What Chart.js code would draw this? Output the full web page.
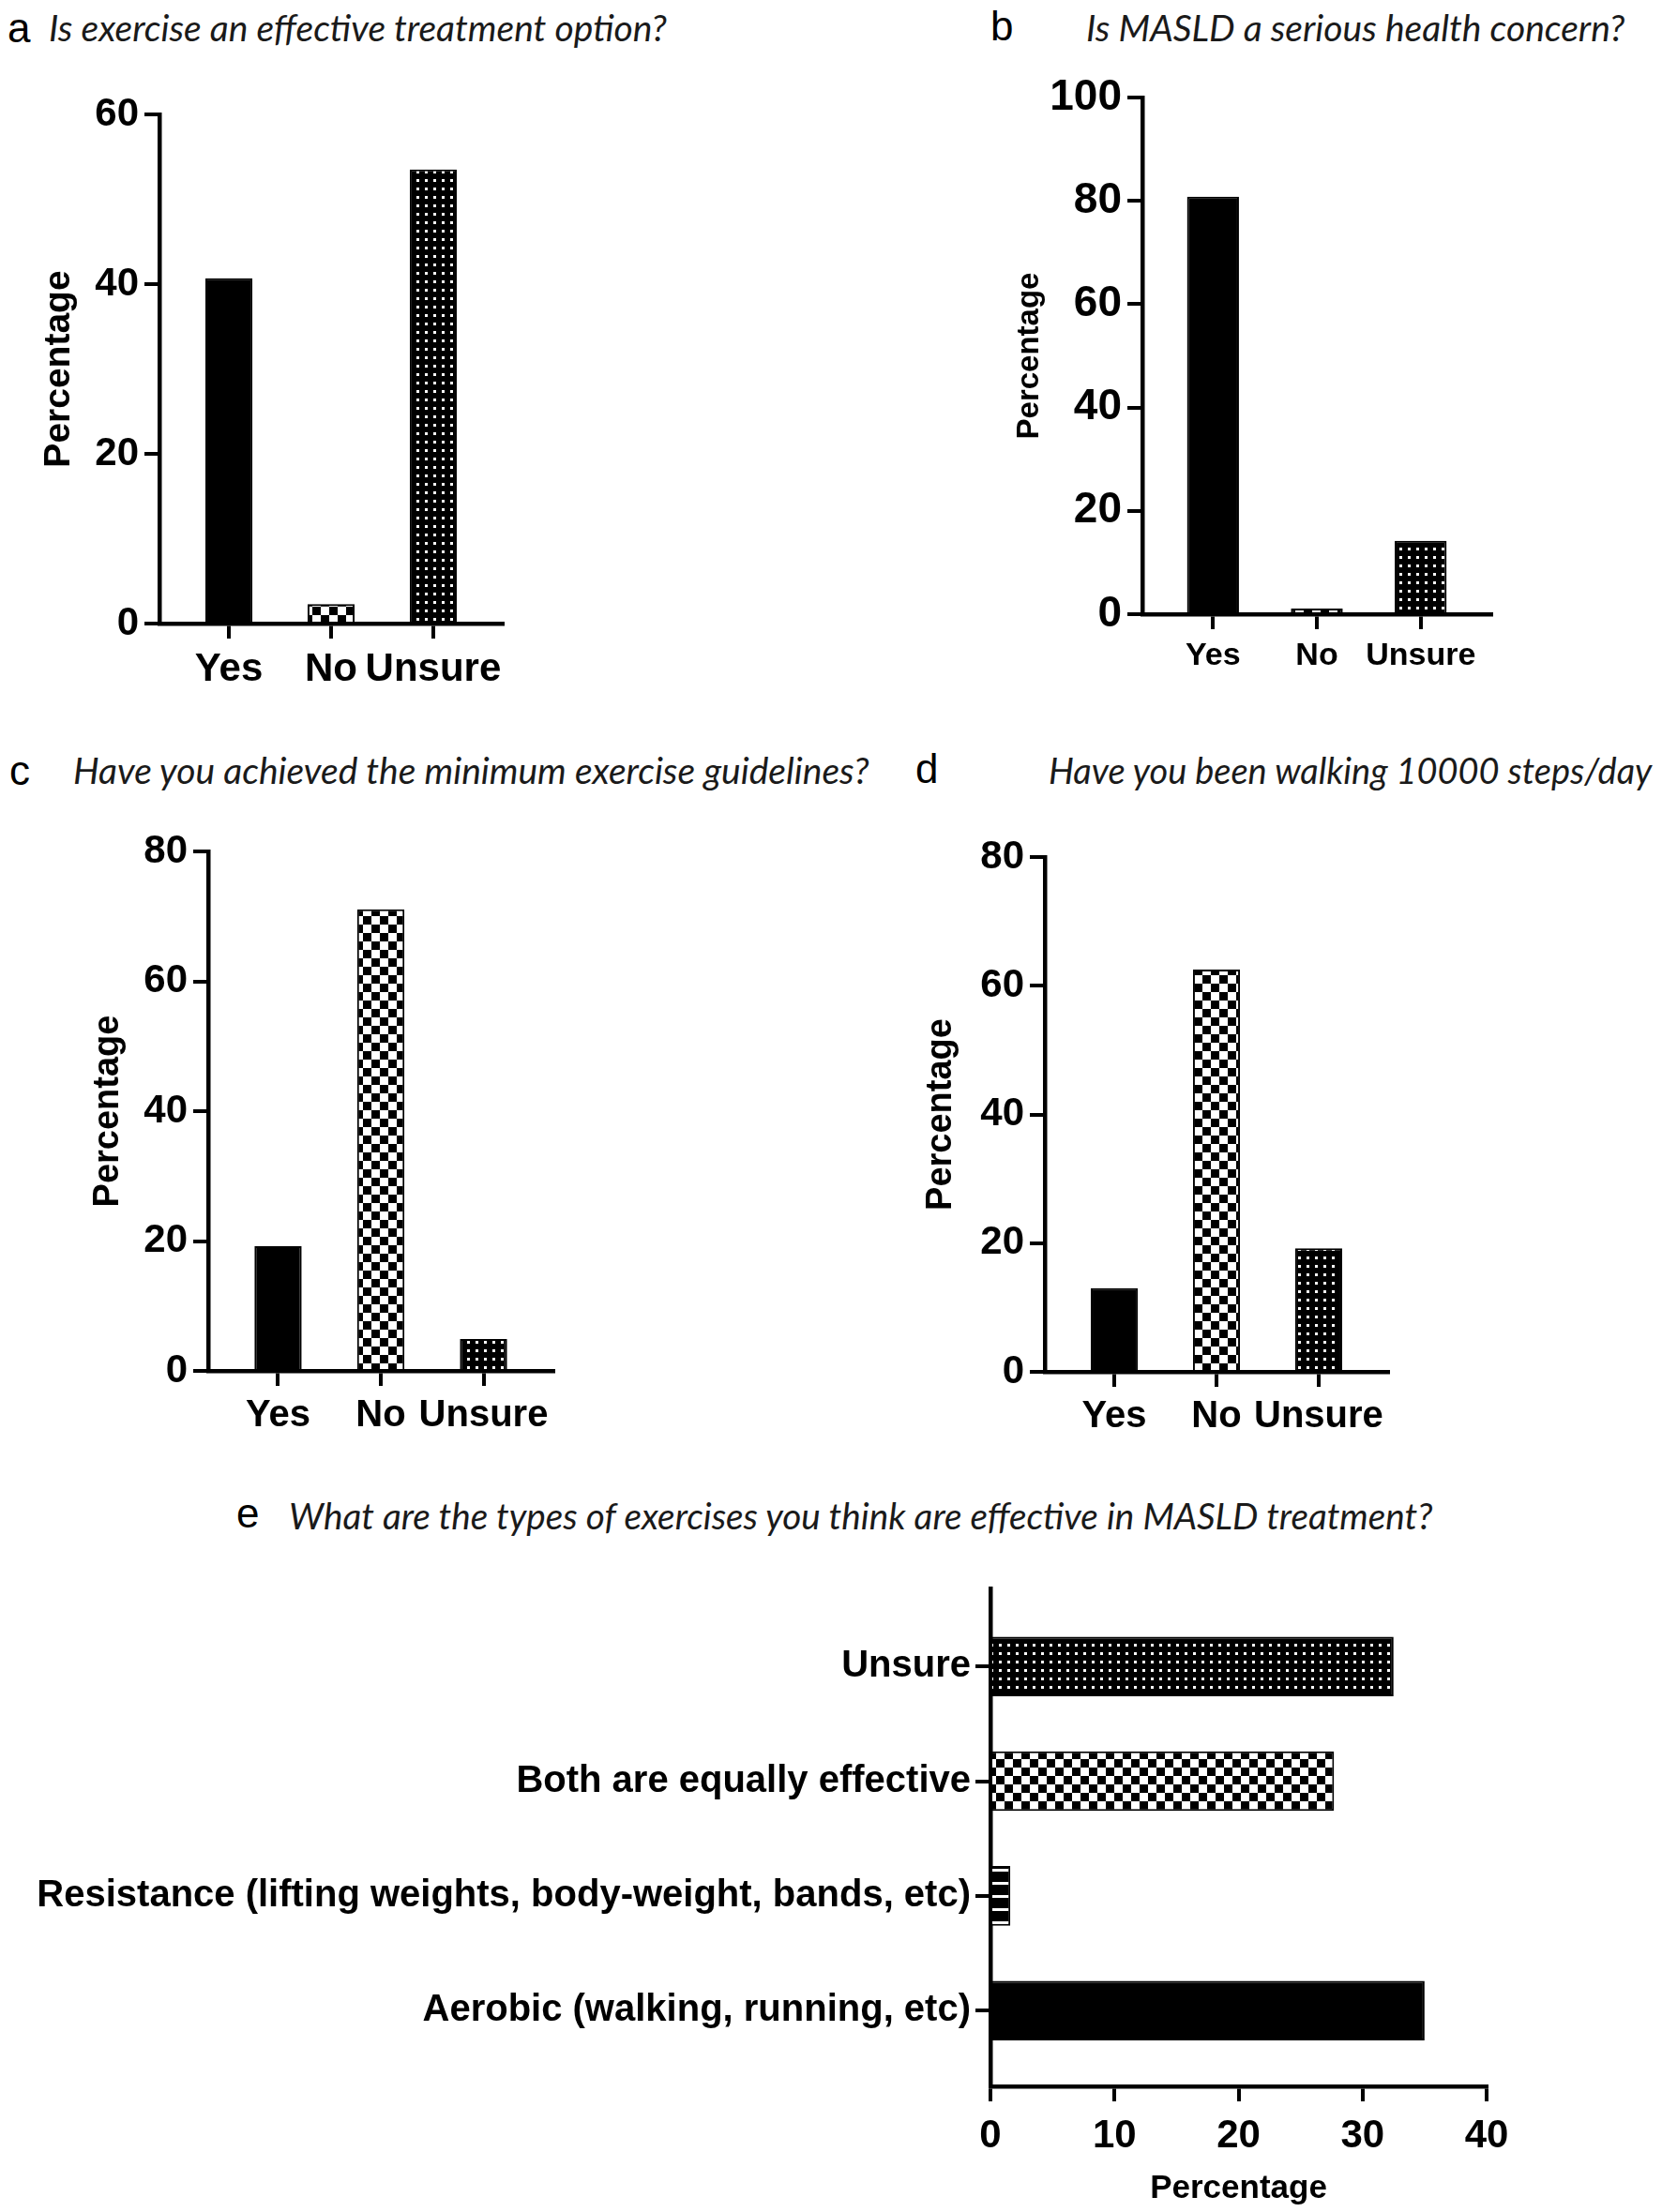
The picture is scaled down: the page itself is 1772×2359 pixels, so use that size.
<!DOCTYPE html>
<html>
<head>
<meta charset="utf-8">
<script src="https://cdn.jsdelivr.net/npm/chart.js@4.4.1/dist/chart.umd.min.js"></script>
<style>
  body { margin: 0; background: #fff; width: 1772px; height: 2359px; position: relative; overflow: hidden; }
  .tag { position: absolute; font-family: "Liberation Sans", Arial, sans-serif; font-size: 44px; line-height: 1; color: #000; }
  .q { position: absolute; font-family: Lato, "Open Sans", sans-serif; font-style: italic; font-size: 39px; line-height: 1; color: #1a1a1a; white-space: nowrap; }
  canvas { position: absolute; }
</style>
</head>
<body>
<div class="tag" style="left:8px;top:8px">a</div>
<div class="q" style="left:52px;top:10px">Is exercise an effective treatment option?</div>
<div class="tag" style="left:1056px;top:6px">b</div>
<div class="q" style="left:1158px;top:10px">Is MASLD a serious health concern?</div>
<div class="tag" style="left:10px;top:800px">c</div>
<div class="q" style="left:78px;top:802px">Have you achieved the minimum exercise guidelines?</div>
<div class="tag" style="left:976px;top:798px">d</div>
<div class="q" style="left:1118px;top:802px;font-size:38px">Have you been walking 10000 steps/day</div>
<div class="tag" style="left:252px;top:1592px">e</div>
<div class="q" style="left:308px;top:1597px;font-size:38.7px">What are the types of exercises you think are effective in MASLD treatment?</div>

<canvas id="chartA" width="886" height="690" style="left:0;top:80px"></canvas>
<canvas id="chartB" width="886" height="720" style="left:886px;top:50px"></canvas>
<canvas id="chartC" width="886" height="700" style="left:0;top:860px"></canvas>
<canvas id="chartD" width="886" height="700" style="left:886px;top:860px"></canvas>
<canvas id="chartE" width="1772" height="699" style="left:0;top:1660px"></canvas>

<script>
// answers shared by panels a-d
const answers = ["Yes", "No", "Unsure"];

const exerciseEffective = [40.7, 2.3, 53.5];
const masldSerious = [80.8, 1.1, 14.2];
const metGuidelines = [19.2, 71.1, 4.9];
const walking10000 = [13.0, 62.5, 19.2];

// panel e, bottom to top
const exerciseTypes = [
  "Aerobic (walking, running, etc)",
  "Resistance (lifting weights, body-weight, bands, etc)",
  "Both are equally effective",
  "Unsure"
];
const exerciseTypeValues = [35.0, 1.6, 27.7, 32.5];

const yMaxA = 60, yMaxB = 100, yMaxC = 80, yMaxD = 80, xMaxE = 40;
const stepA = 20, stepB = 20, stepC = 20, stepD = 20, stepE = 10;

const boldFont = "'Liberation Sans', Arial, sans-serif";

// fill patterns like the Prism bars
function makePattern(kind) {
  let c = document.createElement("canvas");
  let g = c.getContext("2d");
  if (kind == "checker") {
    c.width = 18; c.height = 18;
    g.fillStyle = "#fff"; g.fillRect(0, 0, 18, 18);
    g.fillStyle = "#000"; g.fillRect(0, 0, 9, 9); g.fillRect(9, 9, 9, 9);
  } else if (kind == "dots") {
    c.width = 9; c.height = 9;
    g.fillStyle = "#000"; g.fillRect(0, 0, 9, 9);
    g.fillStyle = "#fff"; g.fillRect(3, 3, 3, 3);
  } else if (kind == "stripes") {
    c.width = 8; c.height = 14;
    g.fillStyle = "#000"; g.fillRect(0, 0, 8, 14);
    g.fillStyle = "#fff"; g.fillRect(0, 11, 8, 3);
  }
  return g.createPattern(c, "repeat");
}

const solid = "#000";
const checker = makePattern("checker");
const dots = makePattern("dots");
const stripes = makePattern("stripes");

function axisGrid() {
  return { display: true, offset: false, drawOnChartArea: false, tickLength: 16, lineWidth: 4, color: "#000", tickColor: "#000" };
}

function columnChart(id, values, yMax, step, cfg) {
  const ctx = document.getElementById(id);
  return new Chart(ctx, {
    type: "bar",
    data: {
      datasets: [{
        data: values.map((v, i) => ({ x: i, y: v })),
        backgroundColor: [solid, checker, dots],
        borderColor: "#000",
        borderWidth: 2,
        categoryPercentage: 1,
        barPercentage: cfg.bar,
      }],
    },
    options: {
      responsive: false,
      animation: false,
      devicePixelRatio: 1,
      layout: { padding: cfg.pad },
      plugins: { legend: { display: false }, tooltip: { enabled: false } },
      scales: {
        x: {
          type: "linear",
          offset: false,
          min: -0.68,
          max: 2.68,
          afterBuildTicks: (s) => { s.ticks = answers.map((a, i) => ({ value: i })); },
          afterFit: (s) => { s.height = 80; },
          ticks: {
            callback: (v) => answers[v],
            autoSkip: false,
            color: "#000",
            padding: cfg.xPad,
            maxRotation: 0,
            font: { family: boldFont, weight: "bold", size: cfg.xFont },
          },
          grid: axisGrid(),
          border: { color: "#000", width: 4.5 },
        },
        y: {
          min: 0,
          max: yMax,
          afterFit: (s) => { s.width = cfg.yWidth; },
          ticks: {
            stepSize: step,
            color: "#000",
            padding: 6,
            font: { family: boldFont, weight: "bold", size: cfg.yFont },
          },
          grid: axisGrid(),
          border: { color: "#000", width: 4.5 },
          title: {
            display: true,
            text: "Percentage",
            color: "#000",
            padding: { top: 4, bottom: 0 },
            font: { family: boldFont, weight: "bold", size: cfg.titleFont },
          },
        },
      },
    },
  });
}

columnChart("chartA", exerciseEffective, yMaxA, stepA, {
  pad: { left: 36, right: 350, top: 42, bottom: 25 }, yWidth: 134, bar: 0.46, xFont: 42, yFont: 42, xPad: 8, titleFont: 39,
});
columnChart("chartB", masldSerious, yMaxB, stepB, {
  pad: { left: 188, right: 182, top: 54, bottom: 35 }, yWidth: 144, bar: 0.5, xFont: 34, yFont: 46, xPad: 8, titleFont: 33,
});
columnChart("chartC", metGuidelines, yMaxC, stepC, {
  pad: { left: 89, right: 296, top: 48, bottom: 18 }, yWidth: 133, bar: 0.46, xFont: 40, yFont: 42, xPad: 8, titleFont: 38,
});
columnChart("chartD", walking10000, yMaxD, stepD, {
  pad: { left: 91, right: 292, top: 54, bottom: 17 }, yWidth: 137, bar: 0.46, xFont: 40, yFont: 42, xPad: 8, titleFont: 38,
});

// panel e: horizontal bars
new Chart(document.getElementById("chartE"), {
  type: "bar",
  data: {
    datasets: [{
      data: exerciseTypeValues.map((v, i) => ({ x: v, y: i })),
      backgroundColor: [solid, stripes, checker, dots],
      borderColor: "#000",
      borderWidth: 2,
      categoryPercentage: 1,
      barPercentage: 0.52,
    }],
  },
  options: {
    indexAxis: "y",
    responsive: false,
    animation: false,
    devicePixelRatio: 1,
    layout: { padding: { left: 0, right: 187, top: 34, bottom: 3 } },
    plugins: { legend: { display: false }, tooltip: { enabled: false } },
    scales: {
      y: {
        type: "linear",
        offset: false,
        min: -0.66,
        max: 3.68,
        afterBuildTicks: (s) => { s.ticks = exerciseTypes.map((t, i) => ({ value: i })); },
        afterFit: (s) => { s.width = 1056; },
        ticks: {
          callback: (v) => exerciseTypes[v],
          autoSkip: false,
          color: "#000",
          padding: 5,
          font: { family: boldFont, weight: "bold", size: 40 },
        },
        grid: axisGrid(),
        border: { color: "#000", width: 4.5 },
      },
      x: {
        min: 0,
        max: xMaxE,
        afterFit: (s) => { s.height = 131; },
        ticks: {
          stepSize: stepE,
          color: "#000",
          padding: 12,
          font: { family: boldFont, weight: "bold", size: 42 },
        },
        grid: axisGrid(),
        border: { color: "#000", width: 4.5 },
        title: {
          display: true,
          text: "Percentage",
          color: "#000",
          padding: { top: 0, bottom: 1 },
          font: { family: boldFont, weight: "bold", size: 35 },
        },
      },
    },
  },
});
</script>
</body>
</html>
